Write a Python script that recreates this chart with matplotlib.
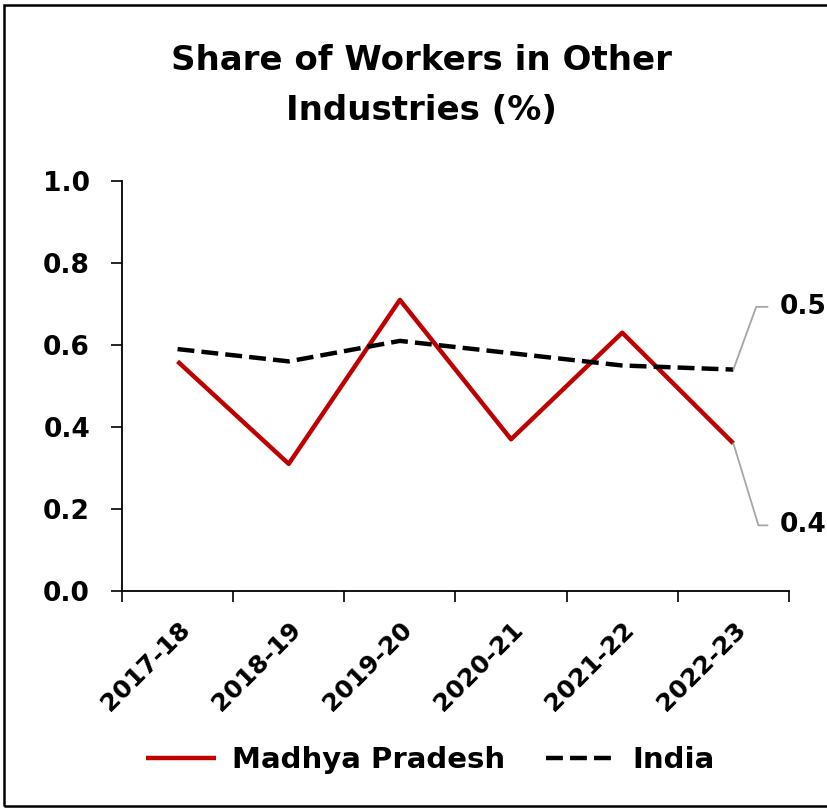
import matplotlib
matplotlib.use("Agg")
import matplotlib.pyplot as plt
from matplotlib.patches import Rectangle

years = ["2017-18", "2018-19", "2019-20", "2020-21", "2021-22", "2022-23"]
madhya_pradesh = [0.56, 0.31, 0.71, 0.37, 0.63, 0.36]
india = [0.59, 0.56, 0.61, 0.58, 0.55, 0.54]
end_labels = ["0.5", "0.4"]

plt.rcParams['font.family'] = ['DejaVu Sans']
plt.rcParams['font.weight'] = 'bold'

fig = plt.figure(figsize=(8.27, 8.08), dpi=100)
ax = fig.add_axes([0.1475, 0.2686, 0.8065, 0.5074])

x = list(range(len(years)))
ax.plot(x, madhya_pradesh, color='#C00000', lw=3.2, label='Madhya Pradesh', solid_capstyle='butt')
ax.plot(x, india, color='black', lw=3.2, ls=(0, (3.8, 1.6)), label='India')

ax.set_xlim(-0.5, len(years) - 0.5)
ax.set_ylim(0, 1.0)
yt = [0, 0.2, 0.4, 0.6, 0.8, 1.0]
ax.set_yticks(yt)
ax.set_yticklabels([f"{v:.1f}" for v in yt], fontsize=19, fontweight='bold')
ax.set_xticks([i - 0.5 for i in range(len(years) + 1)])
ax.set_xticklabels([])
ax.set_xticks(x, minor=True)
ax.set_xticklabels(years, minor=True, rotation=45, ha='right', rotation_mode='anchor',
                   fontsize=18, fontweight='bold')
ax.tick_params(axis='x', which='minor', length=0, pad=19)
ax.tick_params(axis='x', which='major', length=8, width=1.2, direction='out')
ax.tick_params(axis='y', length=8, width=1.2, direction='out', pad=15)
for s in ['top', 'right']:
    ax.spines[s].set_visible(False)
for s in ['left', 'bottom']:
    ax.spines[s].set_linewidth(1.3)

# end labels with grey leader lines
xe = len(years) - 1
ax.annotate(end_labels[0], xy=(xe, india[-1]), xytext=(5.42, 0.693),
            fontsize=19, fontweight='bold', va='center', ha='left',
            arrowprops=dict(arrowstyle='-', color='#A6A6A6', lw=1.3,
                            connectionstyle='angle,angleA=0,angleB=70,rad=0',
                            shrinkA=7, shrinkB=0),
            annotation_clip=False)
ax.annotate(end_labels[1], xy=(xe, madhya_pradesh[-1]), xytext=(5.42, 0.16),
            fontsize=19, fontweight='bold', va='center', ha='left',
            arrowprops=dict(arrowstyle='-', color='#A6A6A6', lw=1.3,
                            connectionstyle='angle,angleA=0,angleB=-73,rad=0',
                            shrinkA=7, shrinkB=0),
            annotation_clip=False)

fig.suptitle("Share of Workers in Other\nIndustries (%)", fontsize=24.5, fontweight='bold',
             x=0.51, y=0.946, linespacing=1.65)

fig.legend(loc='center', bbox_to_anchor=(0.52, 0.059), ncol=2, frameon=False,
           prop={'size': 21, 'weight': 'bold'}, handlelength=2.4, columnspacing=1.4,
           handletextpad=0.55)

fig.patches.append(Rectangle((0.005, 0.002), 1.2, 0.992, transform=fig.transFigure,
                             fill=False, edgecolor='black', lw=1.8))

fig.savefig("out.png", dpi=100)
